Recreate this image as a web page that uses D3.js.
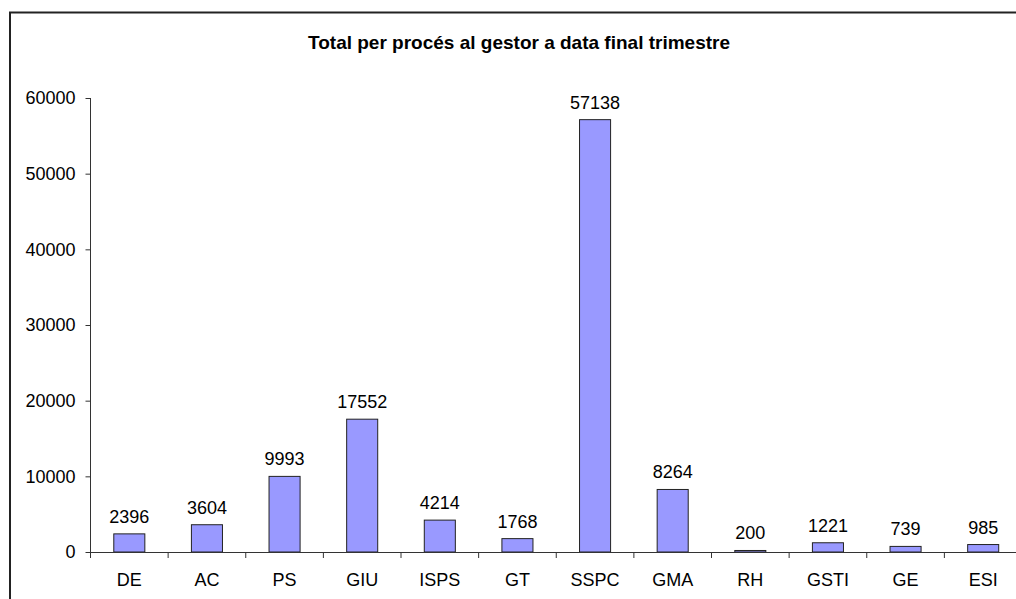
<!DOCTYPE html>
<html>
<head>
<meta charset="utf-8">
<script src="https://cdn.jsdelivr.net/npm/d3@7"></script>
<style>
  body { margin: 0; background: #fff; }
  svg { display: block; font-family: "Liberation Sans", Arial, sans-serif; }
</style>
</head>
<body>
<svg id="chart"></svg>
<script>
// chart data
const categories = ['DE', 'AC', 'PS', 'GIU', 'ISPS', 'GT', 'SSPC', 'GMA', 'RH', 'GSTI', 'GE', 'ESI'];
const values = [2396, 3604, 9993, 17552, 4214, 1768, 57138, 8264, 200, 1221, 739, 985];
const yTicks = [0, 10000, 20000, 30000, 40000, 50000, 60000];
const title = 'Total per procés al gestor a data final trimestre';

const width = 1016, height = 599;
const plot = { left: 90.5, right: 1022, top: 98, bottom: 552 };

const svg = d3.select('#chart')
  .attr('width', width)
  .attr('height', height);

// outer border (right and bottom run off the picture)
svg.append('rect')
  .attr('x', 10)
  .attr('y', 12.5)
  .attr('width', 1100)
  .attr('height', 700)
  .attr('fill', 'none')
  .attr('stroke', '#222')
  .attr('stroke-width', 2);

svg.append('text')
  .attr('x', 519)
  .attr('y', 49)
  .attr('text-anchor', 'middle')
  .style('font-size', '19px')
  .style('font-weight', 'bold')
  .text(title);

// bars sit in the middle 40% of each category slot
const x = d3.scaleBand()
  .domain(categories)
  .range([plot.left, plot.right])
  .paddingInner(0.6)
  .paddingOuter(0.3);

const slot = d3.scaleBand()
  .domain(categories)
  .range([plot.left, plot.right]);

const y = d3.scaleLinear()
  .domain([0, 60000])
  .range([plot.bottom, plot.top]);

// Y axis
const yAxis = svg.append('g')
  .attr('transform', `translate(${plot.left},0)`)
  .call(d3.axisLeft(y).tickValues(yTicks).tickSize(5).tickPadding(10).tickFormat(d => d));
yAxis.select('.domain').attr('stroke', '#333').attr('d', `M0,${y(60000)}V${y(0)}`);
yAxis.selectAll('.tick line').attr('stroke', '#333');
yAxis.selectAll('text').style('font-size', '18px').attr('fill', '#000');

// Bars
svg.selectAll('.bar')
  .data(values)
  .enter().append('rect')
  .attr('class', 'bar')
  .attr('x', (d, i) => x(categories[i]))
  .attr('y', d => y(d))
  .attr('width', x.bandwidth())
  .attr('height', d => y(0) - y(d))
  .attr('fill', '#9999ff')
  .attr('stroke', '#222')
  .attr('stroke-width', 1);

// value labels
svg.selectAll('.val')
  .data(values)
  .enter().append('text')
  .attr('class', 'val')
  .attr('x', (d, i) => x(categories[i]) + x.bandwidth() / 2)
  .attr('y', d => y(d) - 11)
  .attr('text-anchor', 'middle')
  .style('font-size', '18px')
  .text(d => d);

// X axis: labels centred, ticks at slot boundaries
const xAxis = svg.append('g')
  .attr('transform', `translate(0,${plot.bottom})`)
  .call(d3.axisBottom(slot).tickSize(0).tickPadding(21));
xAxis.select('.domain').attr('stroke', '#333');
xAxis.selectAll('text').style('font-size', '18px').attr('fill', '#000');

svg.append('g')
  .selectAll('line')
  .data(categories)
  .enter().append('line')
  .attr('x1', d => slot(d))
  .attr('x2', d => slot(d))
  .attr('y1', plot.bottom)
  .attr('y2', plot.bottom + 6)
  .attr('stroke', '#333');
</script>
</body>
</html>
